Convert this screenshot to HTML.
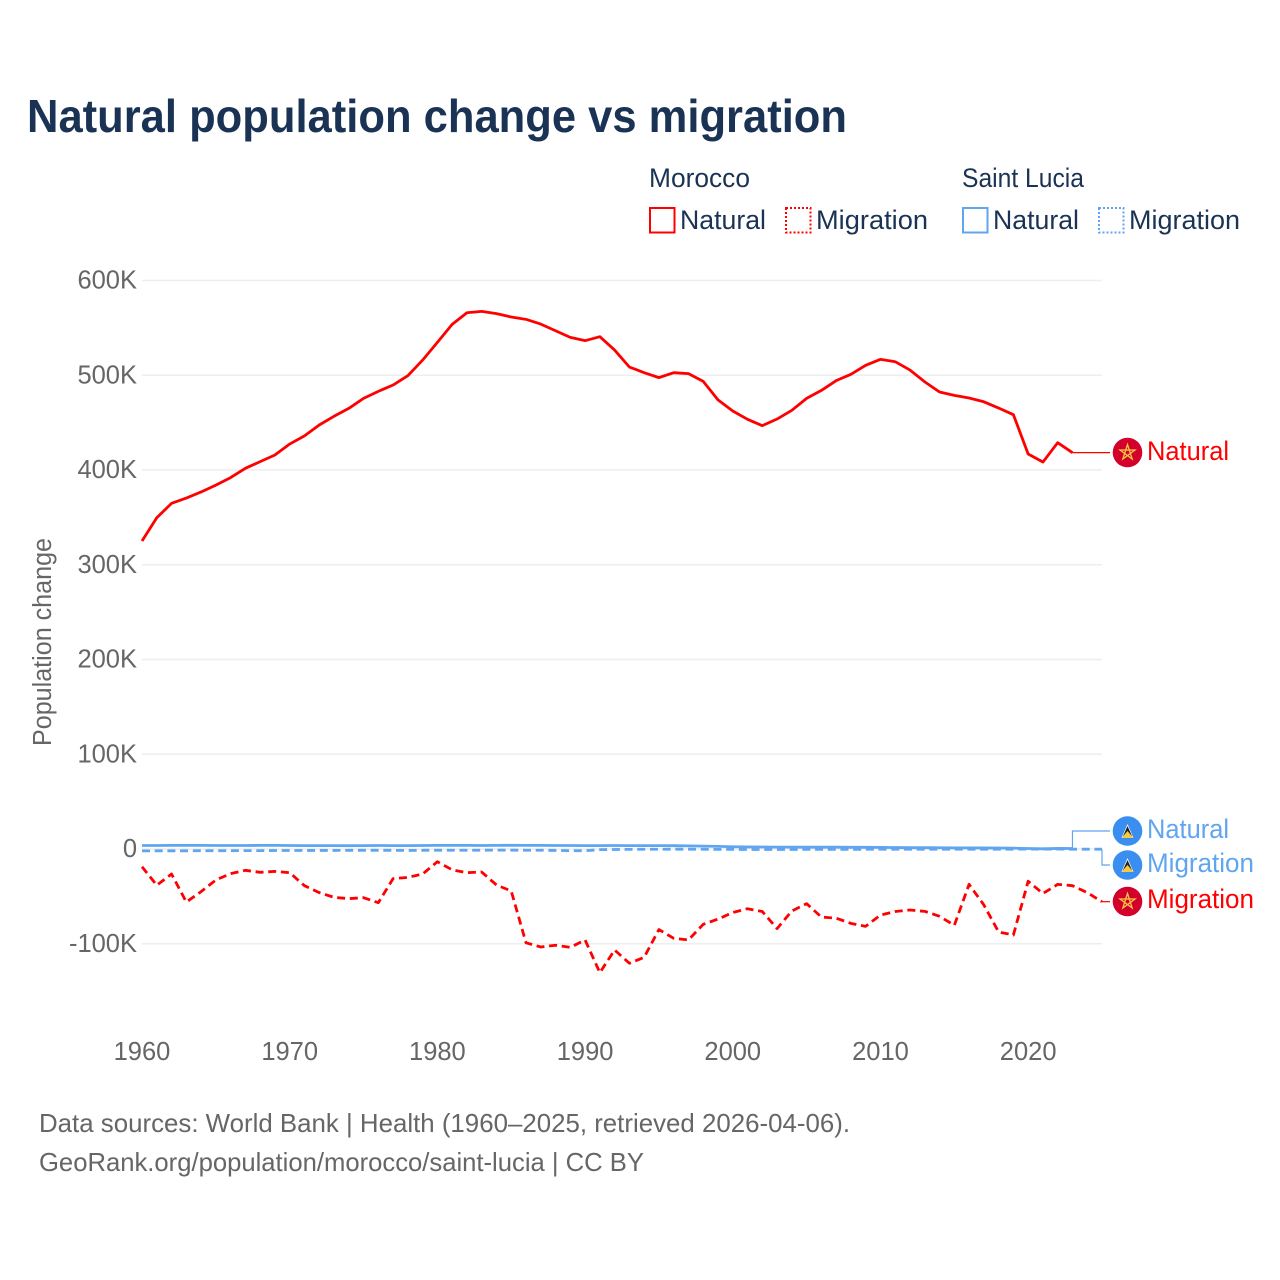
<!DOCTYPE html>
<html lang="en">
<head>
<meta charset="utf-8">
<title>Natural population change vs migration</title>
<style>
html,body{margin:0;padding:0;background:#fff;}
svg{display:block;font-family:"Liberation Sans",sans-serif;}
</style>
</head>
<body>
<svg id="chart" xmlns="http://www.w3.org/2000/svg" width="1280" height="1280" viewBox="0 0 1280 1280">
  <rect width="1280" height="1280" fill="#fff"/>
  <text x="27" y="132" font-size="46" font-weight="700" fill="#1a3355" textLength="820" lengthAdjust="spacingAndGlyphs">Natural population change vs migration</text>

  <g font-size="26.5" fill="#1a3355">
    <text x="649" y="187" textLength="101" lengthAdjust="spacingAndGlyphs">Morocco</text>
    <text x="962" y="187" textLength="122" lengthAdjust="spacingAndGlyphs">Saint Lucia</text>
    <rect x="650" y="208" width="24.5" height="24.5" fill="none" stroke="#ff0000" stroke-width="2"/>
    <text x="680" y="229" textLength="86" lengthAdjust="spacingAndGlyphs">Natural</text>
    <rect x="786" y="208" width="24.5" height="24.5" fill="none" stroke="#ff0000" stroke-width="2" stroke-dasharray="2 2"/>
    <text x="816" y="229" textLength="112" lengthAdjust="spacingAndGlyphs">Migration</text>
    <rect x="963" y="208" width="24.5" height="24.5" fill="none" stroke="#60a5f0" stroke-width="2"/>
    <text x="993" y="229" textLength="86" lengthAdjust="spacingAndGlyphs">Natural</text>
    <rect x="1099" y="208" width="24.5" height="24.5" fill="none" stroke="#60a5f0" stroke-width="2" stroke-dasharray="2 2"/>
    <text x="1129" y="229" textLength="111" lengthAdjust="spacingAndGlyphs">Migration</text>
  </g>

  <g id="grid"></g>
  <g id="yticks" font-size="25.5" fill="#666" text-anchor="end"></g>
  <g id="xticks" font-size="25.5" fill="#666" text-anchor="middle"></g>
  <text transform="translate(51,746) rotate(-90)" font-size="25.5" fill="#666" textLength="208" lengthAdjust="spacingAndGlyphs">Population change</text>

  <g id="series"></g>

  <g>
    <circle cx="1127.5" cy="452.5" r="14.8" fill="#d4002c"/>
    <path d="M1127.5 444.5L1132.2 459L1120 450H1135L1122.8 459Z" fill="none" stroke="#f6c945" stroke-width="1.3"/>
    <text x="1147" y="460" font-size="26.5" fill="#ff0000" textLength="82" lengthAdjust="spacingAndGlyphs">Natural</text>
  </g>
  <g>
    <circle cx="1127.5" cy="831" r="14.8" fill="#3a8ef0"/>
    <path d="M1127.5 824L1133.5 838H1121.5Z" fill="#fff"/>
    <path d="M1127.5 826L1132 836H1123Z" fill="#222"/>
    <path d="M1127.5 831L1133.5 838H1121.5Z" fill="#f6c945"/>
    <text x="1147" y="838" font-size="26.5" fill="#60a5f0" textLength="82" lengthAdjust="spacingAndGlyphs">Natural</text>
  </g>
  <g>
    <circle cx="1127.5" cy="865" r="14.8" fill="#3a8ef0"/>
    <path d="M1127.5 858L1133.5 872H1121.5Z" fill="#fff"/>
    <path d="M1127.5 860L1132 870H1123Z" fill="#222"/>
    <path d="M1127.5 865L1133.5 872H1121.5Z" fill="#f6c945"/>
    <text x="1147" y="872" font-size="26.5" fill="#60a5f0" textLength="107" lengthAdjust="spacingAndGlyphs">Migration</text>
  </g>
  <g>
    <circle cx="1127.5" cy="901.5" r="14.8" fill="#d4002c"/>
    <path d="M1127.5 893.5L1132.2 908L1120 899H1135L1122.8 908Z" fill="none" stroke="#f6c945" stroke-width="1.3"/>
    <text x="1147" y="908" font-size="26.5" fill="#ff0000" textLength="107" lengthAdjust="spacingAndGlyphs">Migration</text>
  </g>

  <g font-size="26" fill="#666">
    <text x="39" y="1132" textLength="811" lengthAdjust="spacingAndGlyphs">Data sources: World Bank | Health (1960–2025, retrieved 2026-04-06).</text>
    <text x="39" y="1171" textLength="605" lengthAdjust="spacingAndGlyphs">GeoRank.org/population/morocco/saint-lucia | CC BY</text>
  </g>
</svg>
<script>
const startYear = 1960;
const xTickYears = [1960, 1970, 1980, 1990, 2000, 2010, 2020];
const yTickValues = [600000, 500000, 400000, 300000, 200000, 100000, 0, -100000];
const yTickLabels = ["600K", "500K", "400K", "300K", "200K", "100K", "0", "-100K"];

const moroccoNatural = [325000,349600,364800,370400,376800,384000,392000,401800,408800,415800,427400,436000,447500,456700,465000,475600,483000,489700,499500,516000,534700,553700,566000,567400,565000,561500,559000,554000,547000,540000,536500,540700,526600,508700,502700,497500,502700,501700,493500,474000,462300,453500,446800,453800,463000,475600,484000,494300,501000,510500,516800,514300,505500,493000,482300,478800,476000,472000,465400,458400,416900,408400,428800,418300];
const moroccoMigration = [-18700,-38300,-26400,-56000,-45000,-32700,-26000,-22500,-24600,-23600,-25000,-38700,-46000,-51000,-52400,-51400,-56700,-31300,-30000,-26400,-13400,-22000,-25000,-24300,-38000,-44300,-99000,-103400,-101600,-103800,-96000,-130500,-106600,-120600,-114300,-85000,-94300,-96000,-79500,-74000,-67000,-63000,-66000,-84000,-65400,-57700,-71800,-73000,-78500,-81600,-69700,-66000,-64400,-65800,-71000,-80600,-37300,-59000,-87600,-90800,-34000,-47000,-37300,-38700,-46000,-55600];
const saintLuciaNatural = [3700,3700,3800,3800,3800,3700,3700,3700,3800,3800,3700,3600,3600,3600,3500,3600,3700,3600,3600,3700,3800,3800,3800,3700,3800,3900,3800,3800,3700,3700,3600,3600,3700,3600,3600,3600,3500,3300,3000,2800,2400,2200,2100,2000,2000,1900,1900,1900,1800,1800,1700,1500,1400,1400,1300,1200,1200,1100,1000,900,500,200,600,500];
const saintLuciaMigration = [-2000,-1900,-1900,-1900,-1800,-1800,-1800,-1700,-1700,-1600,-1600,-1500,-1500,-1500,-1400,-1400,-1400,-1400,-1500,-1400,-1300,-1300,-1300,-1300,-1200,-1200,-1300,-1300,-1500,-1800,-1800,-700,-500,-400,-300,-300,-200,-200,-300,-400,-400,-500,-500,-500,-500,-400,-400,-400,-400,-300,-300,-300,-200,-200,-200,-200,-200,-200,-200,-200,-100,-100,-100,-200,-200,-200];

const svgNS = "http://www.w3.org/2000/svg";
const xAxis = year => 142 + (year - startYear) * (960 / 65);
const yAxis = value => 849 - value * (568.5 / 600000);

function pointsOf(values) {
  return values.map((v, i) => xAxis(startYear + i).toFixed(2) + "," + yAxis(v).toFixed(2)).join(" ");
}

const gridGroup = document.getElementById("grid");
const yTickGroup = document.getElementById("yticks");
const xTickGroup = document.getElementById("xticks");
const seriesGroup = document.getElementById("series");

yTickValues.forEach((value, i) => {
  const line = document.createElementNS(svgNS, "line");
  
  
  line.setAttribute("x1", xAxis(1960));
  line.setAttribute("x2", xAxis(2025));
  line.setAttribute("y1", yAxis(value));
  line.setAttribute("y2", yAxis(value));
  line.setAttribute("stroke", "#eeeeee");
  line.setAttribute("stroke-width", "1.5");
  gridGroup.appendChild(line);

  const label = document.createElementNS(svgNS, "text");
  
  
  label.setAttribute("x", 137);
  label.setAttribute("y", yAxis(value) + 8);
  label.textContent = yTickLabels[i];
  yTickGroup.appendChild(label);
});

xTickYears.forEach(year => {
  const label = document.createElementNS(svgNS, "text");
  
  
  label.setAttribute("x", xAxis(year));
  label.setAttribute("y", 1060);
  label.textContent = String(year);
  xTickGroup.appendChild(label);
});

function drawSeries(name, values, color, dash) {
  const line = document.createElementNS(svgNS, "polyline");
  
  
  line.setAttribute("points", pointsOf(values));
  line.setAttribute("fill", "none");
  line.setAttribute("stroke", color);
  line.setAttribute("stroke-width", "2.8");
  line.setAttribute("stroke-linejoin", "round");
  if (dash) line.setAttribute("stroke-dasharray", dash);
  seriesGroup.appendChild(line);
}

function drawConnector(name, values, color, labelY) {
  const lastX = xAxis(startYear + values.length - 1);
  const lastY = yAxis(values[values.length - 1]);
  const path = document.createElementNS(svgNS, "path");
  
  
  path.setAttribute("d", "M" + lastX + " " + lastY + "V" + labelY + "H1110");
  path.setAttribute("fill", "none");
  path.setAttribute("stroke", color);
  path.setAttribute("stroke-width", "1.2");
  seriesGroup.appendChild(path);
}

drawSeries("line-saint-lucia-natural", saintLuciaNatural, "#60a5f0", null);
drawSeries("line-saint-lucia-migration", saintLuciaMigration, "#60a5f0", "8 4.7");
drawSeries("line-morocco-natural", moroccoNatural, "#ff0000", null);
drawSeries("line-morocco-migration", moroccoMigration, "#ff0000", "8 4.7");
drawConnector("connector-morocco-natural", moroccoNatural, "#ff0000", yAxis(moroccoNatural[moroccoNatural.length - 1]));
drawConnector("connector-morocco-migration", moroccoMigration, "#ff0000", yAxis(moroccoMigration[moroccoMigration.length - 1]));
drawConnector("connector-saint-lucia-natural", saintLuciaNatural, "#60a5f0", 831);
drawConnector("connector-saint-lucia-migration", saintLuciaMigration, "#60a5f0", 865);
</script>
</body>
</html>
